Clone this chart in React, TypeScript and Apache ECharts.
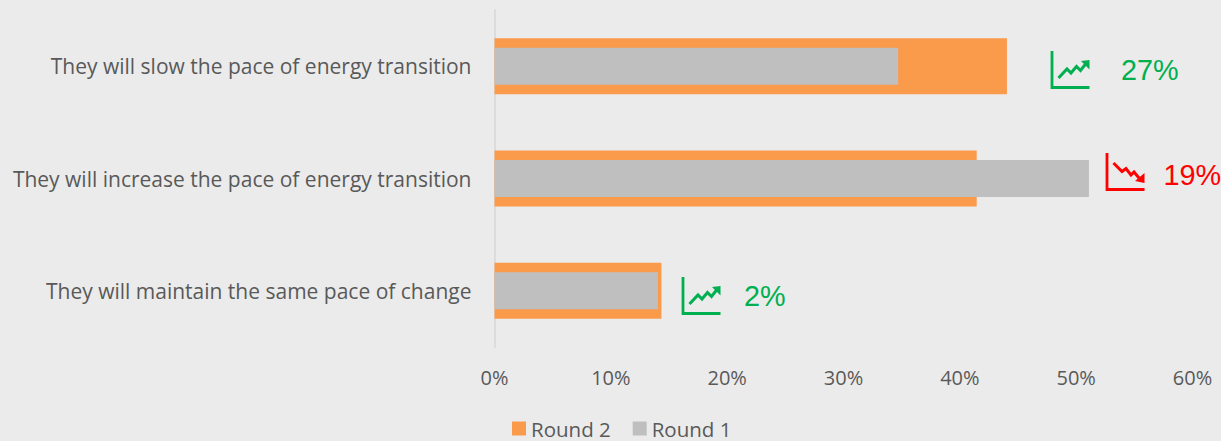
import React, { useEffect, useRef } from "react";
import * as echarts from "echarts";

const categories = [
  "They will slow the pace of energy transition",
  "They will increase the pace of energy transition",
  "They will maintain the same pace of change",
];
const round2 = [44.05, 41.45, 14.35];
const round1 = [34.7, 51.1, 14.05];
const changes = ["27%", "19%", "2%"];
const directions = ["up", "down", "up"];
const xTicks = [0, 10, 20, 30, 40, 50, 60];

const GREEN = "#00B050";
const RED = "#FF0000";
const ORANGE = "#FA9A4B";
const GREY = "#BFBFBF";
const TEXT = "#595959";
const FONT = "'Open Sans', sans-serif";

const iconOrigins = [
  [1052, 51],
  [1107, 153],
  [683, 277],
];
const labelPositions = [
  [1121, 70],
  [1163.4, 175],
  [744, 296],
];

function trendIcon(kind: string, x: number, y: number) {
  const color = kind === "up" ? GREEN : RED;
  const zig =
    kind === "up"
      ? [[6.5, 27], [15, 18], [19, 22], [24.5, 15.5], [28.5, 19.5], [34, 12.5]]
      : [[6.5, 10], [15, 18.5], [19, 15.5], [24, 22], [27, 19], [32, 25]];
  const head =
    kind === "up"
      ? [[37.5, 9], [29, 10], [37.5, 18.5]]
      : [[37.5, 30], [28, 28], [37.5, 20]];
  return {
    type: "group",
    x,
    y,
    children: [
      {
        type: "polyline",
        shape: { points: [[0, 0], [0, 36.5], [37.5, 36.5]] },
        style: { stroke: color, lineWidth: 2.8, fill: "none" },
      },
      {
        type: "polyline",
        shape: { points: zig },
        style: { stroke: color, lineWidth: 3, fill: "none" },
      },
      { type: "polygon", shape: { points: head }, style: { fill: color } },
    ],
  };
}

export default function App() {
  const ref = useRef<HTMLDivElement>(null);
  useEffect(() => {
    document.body.style.margin = "0";
    document.body.style.background = "#EBEBEB";
    const chart = echarts.init(ref.current!, undefined, { renderer: "svg" });
    const yBase = {
      type: "category",
      data: categories,
      inverse: true,
      axisTick: { show: false },
    };
    chart.setOption({
      animation: false,
      backgroundColor: "#EBEBEB",
      textStyle: { fontFamily: FONT },
      grid: { left: 494.5, top: 10, width: 698, height: 337, containLabel: false },
      legend: {
        data: ["Round 2", "Round 1"],
        left: 512,
        top: 418,
        icon: "rect",
        itemWidth: 14,
        itemHeight: 14,
        itemGap: 22,
        padding: 0,
        textStyle: { color: TEXT, fontSize: 20.5, fontFamily: FONT, padding: [0, 0, 6, 0] },
      },
      xAxis: {
        type: "value",
        min: 0,
        max: 60,
        interval: 10,
        splitLine: { show: false },
        axisLine: { show: false },
        axisTick: { show: false },
        axisLabel: {
          color: TEXT,
          fontSize: 20,
          fontFamily: FONT,
          margin: 20,
          formatter: (v: number) => (xTicks.includes(v) ? `${v}%` : ""),
        },
      },
      yAxis: [
        {
          ...yBase,
          axisLine: { show: true, lineStyle: { color: "#DCDCDC", width: 2 } },
          axisLabel: { color: TEXT, fontSize: 21, fontFamily: FONT, margin: 23 },
        },
        { ...yBase, show: false },
      ],
      series: [
        {
          name: "Round 2",
          type: "bar",
          yAxisIndex: 0,
          data: round2,
          barWidth: 56,
          itemStyle: { color: ORANGE },
          z: 2,
        },
        {
          name: "Round 1",
          type: "bar",
          yAxisIndex: 1,
          data: round1,
          barWidth: 37,
          itemStyle: { color: GREY },
          z: 3,
        },
      ],
      graphic: [
        ...directions.map((d, i) => trendIcon(d, iconOrigins[i][0], iconOrigins[i][1])),
        ...changes.map((c, i) => ({
          type: "text",
          x: labelPositions[i][0],
          y: labelPositions[i][1],
          style: {
            text: c,
            fill: directions[i] === "up" ? GREEN : RED,
            fontSize: 28.8,
            fontFamily: "'Liberation Sans', Arial, sans-serif",
            textAlign: "left",
            textVerticalAlign: "middle",
          },
        })),
      ],
    });
    return () => chart.dispose();
  }, []);
  return <div ref={ref} style={{ width: 1221, height: 441 }} />;
}
